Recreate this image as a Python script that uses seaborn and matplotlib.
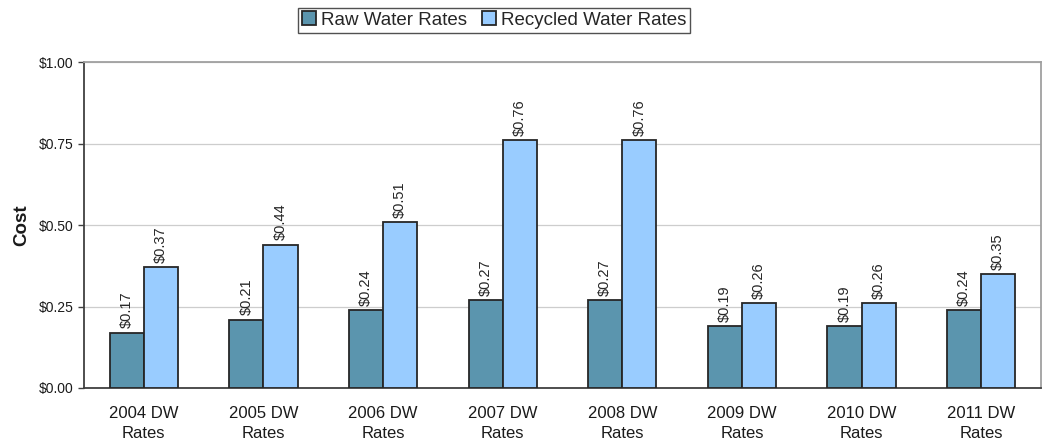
import matplotlib
matplotlib.use("Agg")
import matplotlib.pyplot as plt
import seaborn as sns
import pandas as pd
import numpy as np
from matplotlib.ticker import FixedLocator, FuncFormatter

categories = ["2004 DW\nRates", "2005 DW\nRates", "2006 DW\nRates", "2007 DW\nRates",
              "2008 DW\nRates", "2009 DW\nRates", "2010 DW\nRates", "2011 DW\nRates"]
raw_rates = [0.17, 0.21, 0.24, 0.27, 0.27, 0.19, 0.19, 0.24]
recycled_rates = [0.37, 0.44, 0.51, 0.76, 0.76, 0.26, 0.26, 0.35]
series_names = ["Raw Water Rates", "Recycled Water Rates"]

df = pd.DataFrame({
    "Category": categories * 2,
    "Rate": raw_rates + recycled_rates,
    "Series": [series_names[0]] * len(categories) + [series_names[1]] * len(categories),
})

sns.set_theme(style="white")
plt.rcParams["font.family"] = ["Liberation Sans", "DejaVu Sans"]

fig = plt.figure(figsize=(10.48, 4.47), dpi=100)
ax = fig.add_axes([0.0802, 0.132, 0.9131, 0.729])

palette = {series_names[0]: "#5B95AE", series_names[1]: "#99CCFF"}
sns.barplot(data=df, x="Category", y="Rate", hue="Series", order=categories,
            hue_order=series_names, palette=palette, width=0.57, gap=0,
            edgecolor="#262626", linewidth=1.3, saturation=1, ax=ax, legend=True, zorder=3)

for container in ax.containers:
    ax.bar_label(container, labels=[f"${v:.2f}" for v in container.datavalues],
                 rotation=90, padding=3, fontsize=10.5, color="#262626")

ax.set_ylim(0, 1.0)
ax.set_xlim(-0.5, len(categories) - 0.5)
ax.yaxis.set_major_locator(FixedLocator([0, 0.25, 0.5, 0.75, 1.0]))
ax.yaxis.set_major_formatter(FuncFormatter(lambda v, p: f"${v:.2f}"))
ax.grid(axis="y", color="#CDCDCD", linewidth=0.9, zorder=0)
ax.set_axisbelow(True)

ax.set_xlabel("")
ax.set_ylabel("Cost", fontsize=13.5, fontweight="bold", color="#1a1a1a", labelpad=6)
ax.tick_params(axis="x", which="major", length=0, labelsize=12, pad=13, colors="#1a1a1a")
for lbl in ax.get_xticklabels():
    lbl.set_linespacing(1.45)
ax.set_xticks(np.arange(-0.5, len(categories) + 0.5, 1), minor=True)
ax.tick_params(axis="x", which="minor", length=5, width=1, color="#404040", direction="out")
ax.tick_params(axis="y", length=4, width=1, color="#404040", direction="out",
               labelsize=10, colors="#1a1a1a", left=True)

for side in ["left", "bottom"]:
    ax.spines[side].set_color("#404040")
    ax.spines[side].set_linewidth(1.3)
for side in ["top", "right"]:
    ax.spines[side].set_color("#A0A0A0")
    ax.spines[side].set_linewidth(1.3)

handles, labels = ax.get_legend_handles_labels()
ax.legend_.remove()
leg = fig.legend(handles, labels, loc="center", bbox_to_anchor=(0.4715, 0.955), ncol=2,
                 fontsize=13.5, frameon=True, fancybox=False, edgecolor="#262626",
                 handlelength=0.75, handleheight=0.75, handletextpad=0.25,
                 columnspacing=0.8, borderpad=0.2, borderaxespad=0)
leg.get_frame().set_linewidth(1.0)

fig.savefig("out.png", dpi=100)
